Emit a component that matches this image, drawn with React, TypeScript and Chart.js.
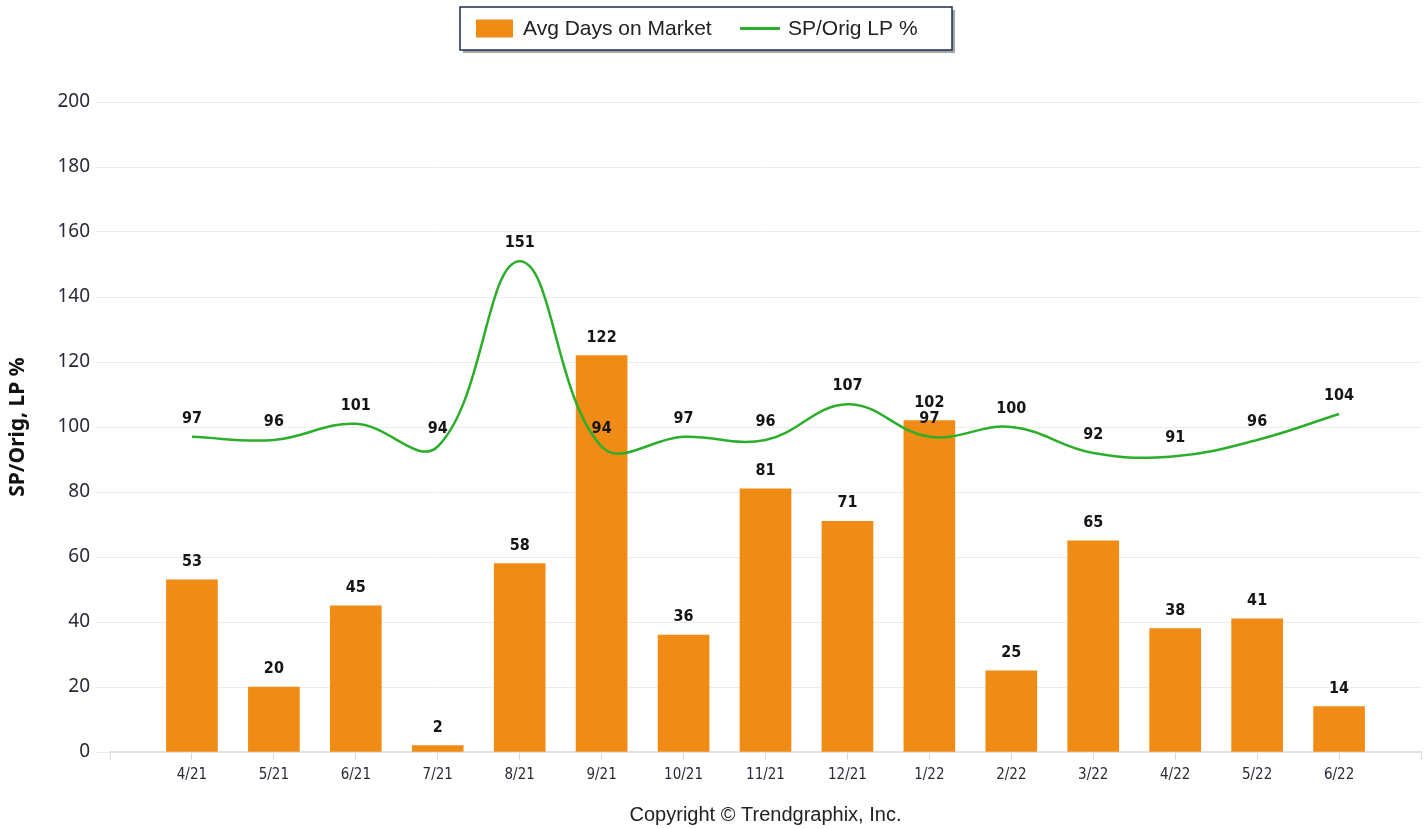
import { useEffect, useRef } from "react";
import { Chart, registerables } from "chart.js";

Chart.register(...registerables);

const categories = ["4/21", "5/21", "6/21", "7/21", "8/21", "9/21", "10/21", "11/21", "12/21", "1/22", "2/22", "3/22", "4/22", "5/22", "6/22"];
const avgDaysOnMarket = [53, 20, 45, 2, 58, 122, 36, 81, 71, 102, 25, 65, 38, 41, 14];
const spOrigLpPct = [97, 96, 101, 94, 151, 94, 97, 96, 107, 97, 100, 92, 91, 96, 104];
const yMin = 0;
const yMax = 200;
const yStep = 20;

const BAR_COLOR = "#F08C16";
const LINE_COLOR = "#2BAF2B";
const TEXT_COLOR = "#2a2a36";

const valueLabels = {
  id: "valueLabels",
  afterDatasetsDraw(chart: any) {
    const ctx = chart.ctx;
    ctx.save();
    ctx.font = "bold 16px 'Liberation Sans Narrow', 'DejaVu Sans Condensed', sans-serif";
    ctx.fillStyle = "#151515";
    ctx.textAlign = "center";
    ctx.textBaseline = "middle";
    chart.data.datasets.forEach((ds: any, di: number) => {
      const meta = chart.getDatasetMeta(di);
      meta.data.forEach((el: any, i: number) => {
        const v = ds.data[i];
        if (v == null) return;
        ctx.fillText(String(v), el.x, el.y - 18);
      });
    });
    ctx.restore();
  },
};

const boxedLegend = {
  id: "boxedLegend",
  afterDraw(chart: any) {
    const ctx = chart.ctx;
    const ds = chart.data.datasets;
    const left = 460;
    const top = 7;
    const w = 492;
    const h = 43;
    ctx.save();
    ctx.fillStyle = "rgba(0,0,0,0.35)";
    ctx.fillRect(left + 3, top + 3, w, h);
    ctx.fillStyle = "#ffffff";
    ctx.fillRect(left, top, w, h);
    ctx.strokeStyle = "#1d2d4d";
    ctx.lineWidth = 1.5;
    ctx.strokeRect(left, top, w, h);
    const cy = top + h / 2;
    ctx.font = "21px 'Liberation Sans', Arial, sans-serif";
    ctx.textBaseline = "middle";
    ctx.textAlign = "left";
    // bar item
    ctx.fillStyle = BAR_COLOR;
    ctx.fillRect(476, cy - 9, 37, 18);
    ctx.fillStyle = "#222";
    ctx.fillText(ds[0].label, 523, cy + 1);
    // line item
    ctx.strokeStyle = LINE_COLOR;
    ctx.lineWidth = 3;
    ctx.beginPath();
    ctx.moveTo(740, cy);
    ctx.lineTo(780, cy);
    ctx.stroke();
    ctx.fillText(ds[1].label, 788, cy + 1);
    ctx.restore();
  },
};

export default function App() {
  const ref = useRef<HTMLCanvasElement | null>(null);

  useEffect(() => {
    if (!ref.current) return;
    const labels = ["", ...categories, ""];
    const chart = new Chart(ref.current, {
      type: "bar",
      data: {
        labels,
        datasets: [
          {
            type: "bar",
            label: "Avg Days on Market",
            data: [null, ...avgDaysOnMarket, null],
            backgroundColor: BAR_COLOR,
            borderWidth: 0,
            barThickness: 51,
            order: 1,
          } as any,
          {
            type: "line",
            label: "SP/Orig LP %",
            data: [null, ...spOrigLpPct, null],
            borderColor: LINE_COLOR,
            backgroundColor: LINE_COLOR,
            borderWidth: 2.5,
            pointRadius: 0,
            tension: 0.4,
            order: 0,
          } as any,
        ],
      },
      options: {
        responsive: false,
        animation: false,
        layout: { padding: { top: 102, left: 0, right: 5, bottom: 0 } },
        plugins: {
          legend: { display: false },
          tooltip: { enabled: false },
        },
        scales: {
          x: {
            offset: false,
            grid: {
              display: true,
              offset: false,
              drawOnChartArea: false,
              drawTicks: true,
              tickLength: 8,
              color: "#d8d8d8",
            },
            border: { display: true, color: "#e2e2e2", width: 2 },
            ticks: {
              color: TEXT_COLOR,
              font: { family: "'Liberation Sans Narrow', 'DejaVu Sans Condensed', sans-serif", size: 15 },
              padding: 6,
              maxRotation: 0,
              autoSkip: false,
            },
            title: {
              display: true,
              text: "Copyright © Trendgraphix, Inc.",
              color: "#222",
              font: { family: "'Liberation Sans', Arial, sans-serif", size: 20 },
              padding: { top: 0, bottom: 2 },
            },
            afterFit(scale: any) {
              scale.height = 77;
            },
          },
          y: {
            min: yMin,
            max: yMax,
            grid: {
              color: "#ececec",
              lineWidth: 1,
              drawTicks: true,
              tickLength: 14,
            },
            border: { display: false },
            ticks: {
              stepSize: yStep,
              color: TEXT_COLOR,
              font: { family: "'Noto Sans', 'Open Sans', sans-serif", size: 19 },
              padding: 6,
            },
            title: {
              display: true,
              text: "SP/Orig, LP %",
              color: "#111",
              font: { family: "'Noto Sans', 'Open Sans', sans-serif", size: 21, weight: "bold" },
              padding: { top: 5, bottom: 0 },
            },
            afterFit(scale: any) {
              scale.width = 110;
            },
          },
        },
      },
      plugins: [valueLabels, boxedLegend],
    });
    return () => chart.destroy();
  }, []);

  return (
    <div style={{ position: "fixed", left: 0, top: 0, width: 1427, height: 829, background: "#fff" }}>
      <canvas ref={ref} width={1427} height={829} style={{ display: "block" }} />
    </div>
  );
}
